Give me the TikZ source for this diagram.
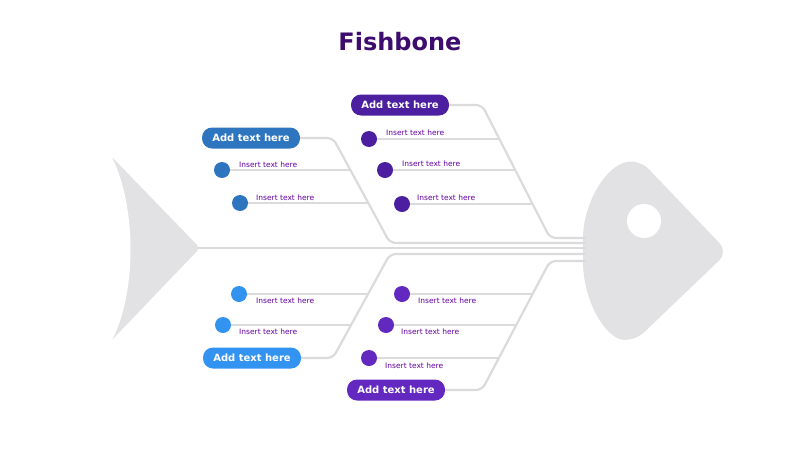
\documentclass[tikz,border=0pt]{standalone}
\usepackage{fontspec}
\setmainfont{DejaVu Sans}
\begin{document}
\begin{tikzpicture}[x=1pt,y=-1pt,
  bone/.style={draw=gray!28,line width=2.2pt,rounded corners=6pt},
  addbox/.style={rounded corners=10pt,minimum width=98pt,minimum height=21pt,inner sep=0pt,text=white,font=\fontsize{10}{12}\selectfont\bfseries},
  dot/.style={circle,minimum size=16pt,inner sep=0pt},
  ins/.style={text=violet!75!blue,font=\fontsize{7.5}{9}\selectfont,inner sep=0pt}]
\definecolor{cA}{HTML}{2E75C0}\definecolor{cB}{HTML}{4B1FA0}
\definecolor{cC}{HTML}{3393F0}\definecolor{cD}{HTML}{6228C0}
\definecolor{fishgray}{HTML}{E2E2E4}
\useasboundingbox (0,0) rectangle (800,450);
\node[text={rgb,255:red,61;green,12;blue,110},font=\fontsize{24}{28}\selectfont\bfseries] (title) at (400,42) {Fishbone};
% tail
\fill[fishgray,rounded corners=4pt] (110,155) -- (200,248) -- (110,342) -- cycle;
\fill[fishgray] (108,160) .. controls (140,200) and (140,300) .. (108,337) -- (150,300) -- (150,200) -- cycle;
\fill[white] (108,150) .. controls (138,200) and (138,300) .. (108,347) -- (90,347) -- (90,150) -- cycle;
% head
\fill[fishgray,rounded corners=12pt] (640,160) .. controls (605,165) and (583,205) .. (583,250) .. controls (583,300) and (605,338) .. (635,341) -- (728,252) -- cycle;
\node[circle,fill=white,minimum size=34pt,inner sep=0pt] (eye) at (644,221) {};
% spine
\coordinate (tailtip) at (198,248);
\coordinate (headL) at (586,248);
\draw[bone,rounded corners=0pt] (tailtip) -- (headL);
% upper left
\node[addbox,fill=cA] (b1) at (251,138) {Add text here};
\coordinate (b1k) at (333,138); \coordinate (b1e) at (390,243);
\draw[bone] (b1.east) -- (b1k) -- (b1e) -- (586,243);
\node[dot,fill=cA] (d11) at (222,170) {};
\node[dot,fill=cA] (d12) at (240,203) {};
\draw[bone] (d11) -- (350,170); \draw[bone] (d12) -- (368,203);
\node[ins,anchor=west] (t11) at (239,165) {Insert text here};
\node[ins,anchor=west] (t12) at (256,198) {Insert text here};
% upper right
\node[addbox,fill=cB] (b2) at (400,105) {Add text here};
\coordinate (b2k) at (482,105); \coordinate (b2e) at (550,238);
\draw[bone] (b2.east) -- (b2k) -- (b2e) -- (586,238);
\node[dot,fill=cB] (d21) at (369,139) {};
\node[dot,fill=cB] (d22) at (385,170) {};
\node[dot,fill=cB] (d23) at (402,204) {};
\draw[bone] (d21) -- (499,139); \draw[bone] (d22) -- (515,170); \draw[bone] (d23) -- (532,204);
\node[ins,anchor=west] (t21) at (386,133) {Insert text here};
\node[ins,anchor=west] (t22) at (402,164) {Insert text here};
\node[ins,anchor=west] (t23) at (417,198) {Insert text here};
% lower left
\node[addbox,fill=cC] (b3) at (252,358) {Add text here};
\coordinate (b3k) at (333,358); \coordinate (b3e) at (390,254);
\draw[bone] (b3.east) -- (b3k) -- (b3e) -- (586,254);
\node[dot,fill=cC] (d31) at (239,294) {};
\node[dot,fill=cC] (d32) at (223,325) {};
\draw[bone] (d31) -- (368,294); \draw[bone] (d32) -- (351,325);
\node[ins,anchor=west] (t31) at (256,301) {Insert text here};
\node[ins,anchor=west] (t32) at (239,332) {Insert text here};
% lower right
\node[addbox,fill=cD] (b4) at (396,390) {Add text here};
\coordinate (b4k) at (482,390); \coordinate (b4e) at (550,261);
\draw[bone] (b4.east) -- (b4k) -- (b4e) -- (586,261);
\node[dot,fill=cD] (d41) at (402,294) {};
\node[dot,fill=cD] (d42) at (386,325) {};
\node[dot,fill=cD] (d43) at (369,358) {};
\draw[bone] (d41) -- (532,294); \draw[bone] (d42) -- (516,325); \draw[bone] (d43) -- (499,358);
\node[ins,anchor=west] (t41) at (418,301) {Insert text here};
\node[ins,anchor=west] (t42) at (401,332) {Insert text here};
\node[ins,anchor=west] (t43) at (385,366) {Insert text here};
\end{tikzpicture}
\end{document}
